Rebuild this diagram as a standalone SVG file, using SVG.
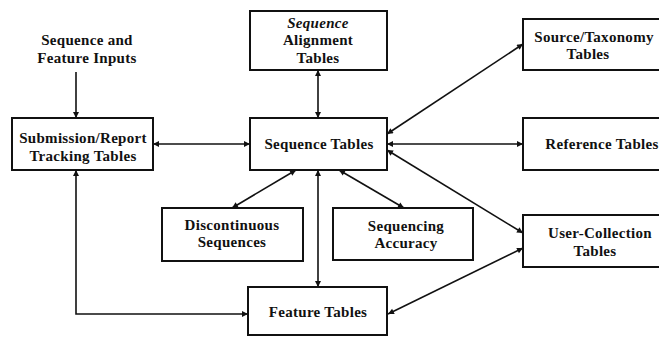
<svg xmlns="http://www.w3.org/2000/svg" width="659" height="338" viewBox="0 0 659 338">
<style>
.box{fill:#fff;stroke:#111;stroke-width:2}
.t{font-family:"Liberation Serif","Times New Roman",serif;font-size:15px;font-weight:bold;fill:#111;text-anchor:middle;letter-spacing:0.3px}
.c{fill:none;stroke:#111;stroke-width:1.6}
</style>
<defs>
<marker id="ah" viewBox="0 0 10 10" refX="10" refY="5" markerWidth="7" markerHeight="6" markerUnits="userSpaceOnUse" orient="auto-start-reverse">
<path d="M0,0 L10,5 L0,10 z" fill="#111"/>
</marker>
</defs>
<rect width="659" height="338" fill="#fff"/>
<g id="connectors">
<line class="c" x1="76" y1="72" x2="76" y2="118" marker-end="url(#ah)"/>
<line class="c" x1="153" y1="144" x2="250" y2="144" marker-start="url(#ah)" marker-end="url(#ah)"/>
<line class="c" x1="318" y1="70" x2="318" y2="118" marker-start="url(#ah)" marker-end="url(#ah)"/>
<line class="c" x1="387" y1="134" x2="523" y2="44" marker-start="url(#ah)" marker-end="url(#ah)"/>
<line class="c" x1="387" y1="144" x2="523" y2="144" marker-start="url(#ah)" marker-end="url(#ah)"/>
<line class="c" x1="387" y1="150" x2="523" y2="233" marker-start="url(#ah)" marker-end="url(#ah)"/>
<line class="c" x1="523" y1="248" x2="388" y2="314" marker-start="url(#ah)" marker-end="url(#ah)"/>
<line class="c" x1="296" y1="170" x2="232" y2="208" marker-start="url(#ah)" marker-end="url(#ah)"/>
<line class="c" x1="339" y1="170" x2="404" y2="208" marker-start="url(#ah)" marker-end="url(#ah)"/>
<line class="c" x1="318" y1="170" x2="318" y2="287" marker-start="url(#ah)" marker-end="url(#ah)"/>
<path class="c" d="M76,170 V314 H248" marker-start="url(#ah)" marker-end="url(#ah)"/>
</g>
<g id="inputs">
<text class="t" x="87" y="45">Sequence and</text>
<text class="t" x="87" y="63">Feature Inputs</text>
</g>
<g id="alignment">
<rect class="box" x="250" y="11" width="137" height="59"/>
<text class="t" x="318" y="28" font-style="italic">Sequence</text>
<text class="t" x="318" y="45">Alignment</text>
<text class="t" x="318" y="63">Tables</text>
</g>
<g id="submission">
<rect class="box" x="12" y="118" width="141" height="52"/>
<text class="t" x="83" y="143">Submission/Report</text>
<text class="t" x="83" y="161">Tracking Tables</text>
</g>
<g id="sequence">
<rect class="box" x="250" y="118" width="137" height="52"/>
<text class="t" x="319" y="149">Sequence Tables</text>
</g>
<g id="source">
<rect class="box" x="523" y="19" width="145" height="51"/>
<text class="t" x="594" y="42">Source/Taxonomy</text>
<text class="t" x="588" y="59">Tables</text>
</g>
<g id="reference">
<rect class="box" x="523" y="118" width="145" height="52"/>
<text class="t" x="602" y="149">Reference Tables</text>
</g>
<g id="discontinuous">
<rect class="box" x="162" y="208" width="141" height="53"/>
<text class="t" x="232" y="230">Discontinuous</text>
<text class="t" x="232" y="247">Sequences</text>
</g>
<g id="accuracy">
<rect class="box" x="333" y="208" width="140" height="52"/>
<text class="t" x="406" y="231">Sequencing</text>
<text class="t" x="406" y="248">Accuracy</text>
</g>
<g id="usercollection">
<rect class="box" x="523" y="215" width="145" height="52"/>
<text class="t" x="600" y="238">User-Collection</text>
<text class="t" x="595" y="256">Tables</text>
</g>
<g id="feature">
<rect class="box" x="248" y="287" width="139" height="48"/>
<text class="t" x="318" y="317">Feature Tables</text>
</g>
</svg>
